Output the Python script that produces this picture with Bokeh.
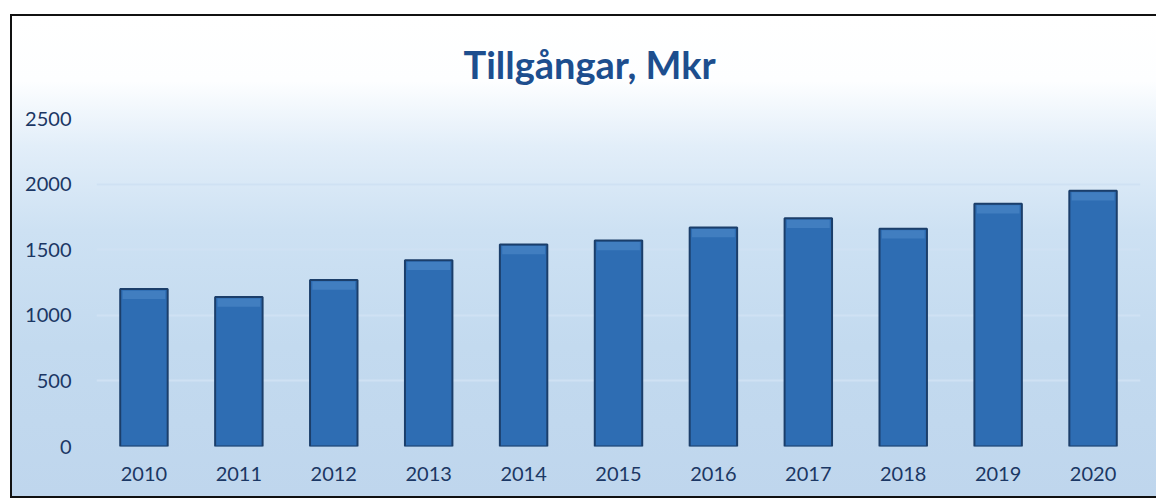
from bokeh.plotting import figure
from bokeh.models import Title, FixedTicker
from bokeh.embed import file_html
from bokeh.resources import INLINE

years = ["2010", "2011", "2012", "2013", "2014", "2015", "2016", "2017", "2018", "2019", "2020"]
assets = [1200, 1140, 1270, 1420, 1540, 1570, 1670, 1740, 1660, 1850, 1950]
y_ticks = [0, 500, 1000, 1500, 2000, 2500]
title_text = "Tillgångar, Mkr"

FONT = "Lato"

p = figure(x_range=years, y_range=(0, 2500), width=1156, height=500,
           output_backend="svg", toolbar_location=None, tools="",
           min_border_left=96, min_border_right=16, min_border_top=118, min_border_bottom=54)
p.frame_width = 1044
p.frame_height = 328

p.background_fill_alpha = 0
p.border_fill_alpha = 0
p.outline_line_color = None
p.styles = {
    "background": (
        "linear-gradient(#111,#111) 10px 14px / 2px 484px no-repeat, "
        "linear-gradient(#111,#111) 10px 14px / 1146px 2px no-repeat, "
        "linear-gradient(#111,#111) 10px 496px / 1146px 2px no-repeat, "
        "linear-gradient(to bottom, #ffffff 0px, #fdfeff 65px, #e2eef9 130px, #cde1f3 215px, #c3daef 330px, #bfd6ed 480px) 12px 16px / 1144px 480px no-repeat, "
        "#ffffff"
    )
}

t = Title(text=title_text, align="left", text_font=FONT, text_font_size="38px",
          text_font_style="bold", text_color="#1d4e8e", standoff=64, offset=367)
p.add_layout(t, "above")

p.vbar(x=years, top=assets, width=0.5, fill_color="#2e6db3", line_color="#1b3e6a", line_width=2)
p.vbar(x=years, top=[v - 12 for v in assets], bottom=[v - 75 for v in assets], width=0.45,
       fill_color="#5f98d4", fill_alpha=0.4, line_color=None)

p.xgrid.grid_line_color = None
p.ygrid.grid_line_color = "#cfe1f3"
p.ygrid.grid_line_width = 2
p.yaxis.ticker = FixedTicker(ticks=y_ticks)

for ax in (p.xaxis, p.yaxis):
    ax.axis_line_color = None
    ax.major_tick_line_color = None
    ax.minor_tick_line_color = None
    ax.major_tick_out = 0
    ax.major_tick_in = 0
    ax.major_label_text_font = FONT
    ax.major_label_text_font_size = "20px"
    ax.major_label_text_color = "#1b3764"
p.yaxis.major_label_standoff = 25
p.xaxis.major_label_standoff = 20

open("out.html", "w").write(file_html(p, INLINE))
